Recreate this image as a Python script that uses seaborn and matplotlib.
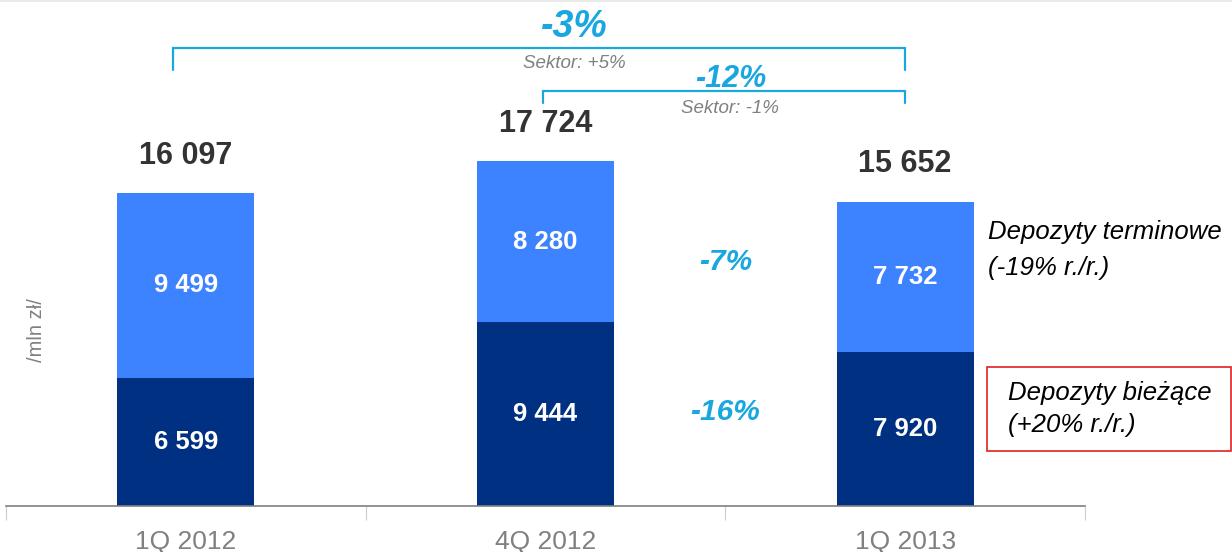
import pandas as pd
import matplotlib
matplotlib.use('Agg')
import matplotlib.pyplot as plt
import seaborn as sns
from matplotlib.patches import Rectangle
from matplotlib.lines import Line2D

# Data
quarters = ['1Q 2012', '4Q 2012', '1Q 2013']
biezace = [6599, 9444, 7920]
terminowe = [9499, 8280, 7732]
totals = [16097, 17724, 15652]

def fmt(v):
    return f"{v:,}".replace(',', ' ')

df = pd.DataFrame({'kw': quarters, 'biezace': biezace, 'terminowe': terminowe})
df['suma'] = df['biezace'] + df['terminowe']

sns.set_style('white')
plt.rcParams['font.family'] = ['Liberation Sans', 'DejaVu Sans']

light = '#3d82ff'
dark = '#003082'
cyan = '#1aa7e0'
gray = '#808080'

fig = plt.figure(figsize=(12.32, 5.52), dpi=100)
ax = fig.add_axes([6 / 1232, 46 / 552, 1079 / 1232, 506 / 552])

sns.barplot(data=df, x='kw', y='suma', color=light, width=0.38, saturation=1,
            linewidth=0, ax=ax)
sns.barplot(data=df, x='kw', y='biezace', color=dark, width=0.38, saturation=1,
            linewidth=0, ax=ax)

ax.set_xlim(-0.5, 2.5)
ax.set_ylim(0, 26015)
ax.set_xlabel('')
ax.set_yticks([])
for s in ['top', 'right', 'left']:
    ax.spines[s].set_visible(False)
ax.spines['bottom'].set_color(gray)
ax.spines['bottom'].set_linewidth(1.2)
ax.tick_params(axis='x', which='major', bottom=True, length=0, labelsize=19,
               labelcolor=gray, pad=17)
ax.set_xticks([-0.5, 0.5, 1.5, 2.5], minor=True)
ax.tick_params(axis='x', which='minor', bottom=True, length=10, color='#cccccc', width=0.8)

# labels on segments and totals
for i in range(len(quarters)):
    b = biezace[i]
    t = terminowe[i]
    ax.text(i, b / 2, fmt(b), ha='center', va='center', color='white',
            fontsize=18.5, fontweight='bold')
    ax.text(i, b + t / 2, fmt(t), ha='center', va='center', color='white',
            fontsize=18.5, fontweight='bold')
    ax.text(i, b + t + 1150, fmt(totals[i]), ha='center', va='bottom', color='#333333',
            fontsize=22, fontweight='bold')

# change between 4Q 2012 and 1Q 2013
ax.text(1.5, 12550, '-7%', ha='center', va='center', color=cyan, fontsize=21.5,
        fontweight='bold', style='italic')
ax.text(1.5, 4850, '-16%', ha='center', va='center', color=cyan, fontsize=21.5,
        fontweight='bold', style='italic')

# brackets
def bracket(x0, x1, y, drop, xm, label, lsize, sub, ty, sy):
    ax.plot([x0, x0, x1, x1], [y - drop, y, y, y - drop], color=cyan, lw=1.6,
            solid_joinstyle='miter', clip_on=False)
    ax.text(xm, ty, label, ha='center', va='center', color=cyan, fontsize=lsize,
            fontweight='bold', style='italic')
    ax.text(xm, sy, sub, ha='center', va='center', color=gray, fontsize=13.5,
            style='italic')

bracket(-0.036, 2.0, 23550, 1130, 1.08, '-3%', 27, 'Sektor: +5%', 24650, 22750)
bracket(0.992, 2.0, 21350, 620, 1.514, '-12%', 22, 'Sektor: -1%', 21950, 20450)

ax.set_ylabel('/mln zł/', color=gray, fontsize=14.5)
ax.yaxis.set_label_coords(40 / 1079, 176 / 506)

# series descriptions on the right
txt = dict(fontsize=18.5, style='italic', va='center', ha='left', color='black')
fig.text(988 / 1232, 1 - 232 / 552, 'Depozyty terminowe', **txt)
fig.text(988 / 1232, 1 - 268 / 552, '(-19% r./r.)', **txt)
fig.patches.append(Rectangle((987 / 1232, 1 - 451 / 552), 244 / 1232, 84 / 552,
                             transform=fig.transFigure, fill=False, edgecolor='#e02020', lw=1.2))
fig.text(1008 / 1232, 1 - 393 / 552, 'Depozyty bieżące', **txt)
fig.text(1008 / 1232, 1 - 425 / 552, '(+20% r./r.)', **txt)

# thin frame line at the very top
fig.lines.append(Line2D([0, 1], [0.999, 0.999], transform=fig.transFigure,
                        color='#e6e6e6', lw=1.2))

fig.savefig('out.png', dpi=100)
